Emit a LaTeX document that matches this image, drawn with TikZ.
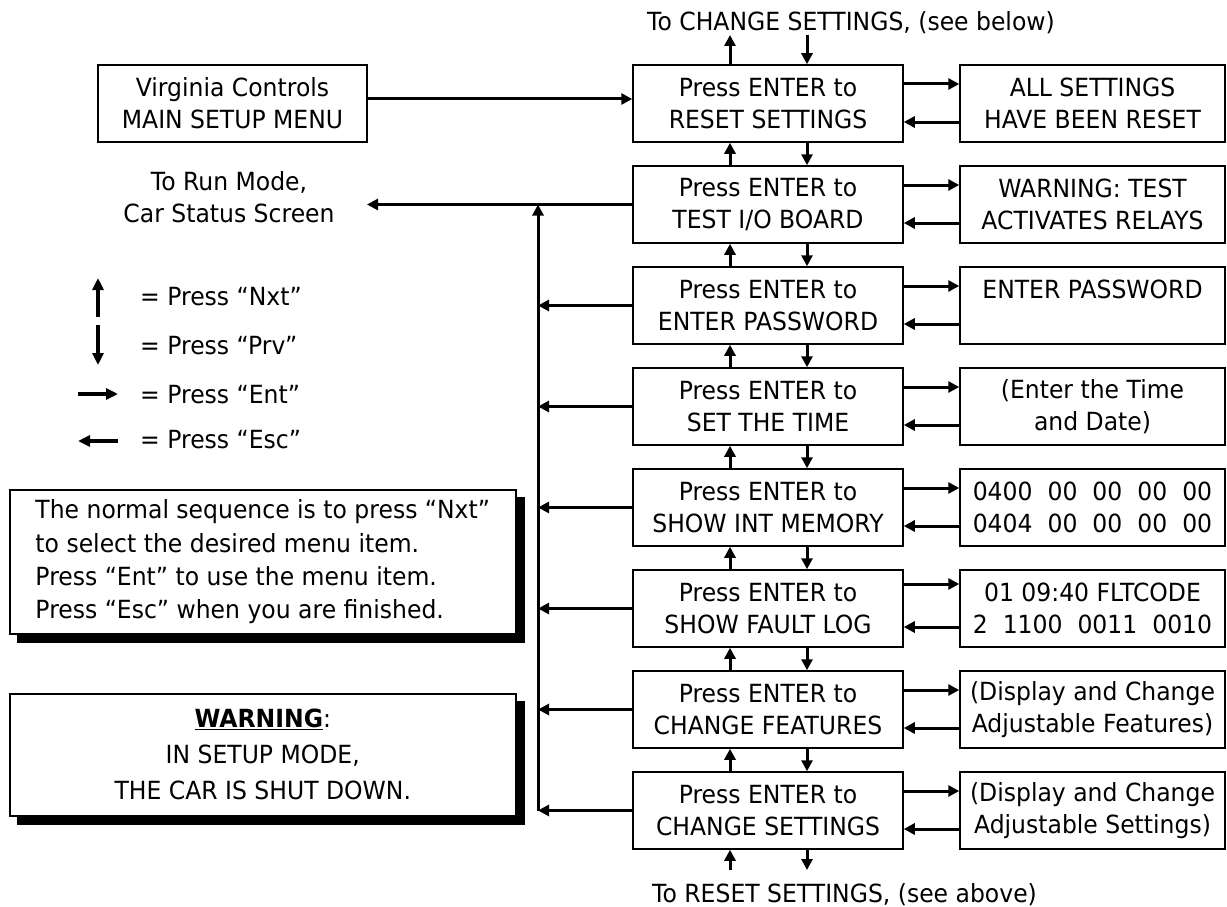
\documentclass[tikz,border=0pt]{standalone}
\usepackage{fontspec}
\setmainfont{DejaVu Sans}[FakeStretch=0.94]
\usetikzlibrary{arrows.meta,calc,backgrounds}
\begin{document}
\begin{tikzpicture}[x=1pt,y=-1pt,
  every node/.style={font=\fontsize{25}{32}\selectfont},
  cbox/.style={draw,line width=1.5pt,minimum width=270pt,minimum height=77pt,inner sep=0pt,align=center},
  rbox/.style={cbox,minimum width=265pt},
  arr/.style={line width=3pt,-{Triangle[length=11pt,width=11pt]}},
  legarr/.style={line width=3.5pt,-{Triangle[length=12pt,width=11pt]}},
  lbl/.style={inner sep=0pt,align=center},
  notebox/.style={draw,line width=1.5pt,fill=white,anchor=north west,inner ysep=0pt},
  shadowfill/.style={fill=black}
]
\useasboundingbox (0,0) rectangle (1227,907);

% centre column
\node[cbox] (c1) at (768,103.5) {Press ENTER to\\RESET SETTINGS};
\node[cbox] (c2) at (768,204.5) {Press ENTER to\\TEST I/O BOARD};
\node[cbox] (c3) at (768,305.5) {Press ENTER to\\ENTER PASSWORD};
\node[cbox] (c4) at (768,406.5) {Press ENTER to\\SET THE TIME};
\node[cbox] (c5) at (768,507.5) {Press ENTER to\\SHOW INT MEMORY};
\node[cbox] (c6) at (768,608.5) {Press ENTER to\\SHOW FAULT LOG};
\node[cbox] (c7) at (768,709.5) {Press ENTER to\\CHANGE FEATURES};
\node[cbox] (c8) at (768,810.5) {Press ENTER to\\CHANGE SETTINGS};

% right column
\node[rbox] (r1) at (1092.5,103.5) {ALL SETTINGS\\HAVE BEEN RESET};
\node[rbox] (r2) at (1092.5,204.5) {WARNING: TEST\\ACTIVATES RELAYS};
\node[rbox] (r3) at (1092.5,305.5) {ENTER PASSWORD\\~};
\node[rbox] (r4) at (1092.5,406.5) {(Enter the Time\\and Date)};
\node[rbox] (r5) at (1092.5,507.5) {0400\hspace{15pt}00\hspace{15pt}00\hspace{15pt}00\hspace{15pt}00\\0404\hspace{15pt}00\hspace{15pt}00\hspace{15pt}00\hspace{15pt}00};
\node[rbox] (r6) at (1092.5,608.5) {01 09:40 FLTCODE\\2\hspace{15pt}1100\hspace{15pt}0011\hspace{15pt}0010};
\node[rbox] (r7) at (1092.5,709.5) {(Display and Change\\Adjustable Features)};
\node[rbox] (r8) at (1092.5,810.5) {(Display and Change\\Adjustable Settings)};

% main menu box
\node[cbox,minimum width=269pt] (vc) at (232.5,103.5) {Virginia Controls\\MAIN SETUP MENU};
\draw[arr] ([yshift=4.5pt]vc.east) -- ([yshift=4.5pt]c1.west);

% enter / esc arrows
\foreach \i in {1,2,3,4,5,7,8}{
  \draw[arr] ([yshift=19.5pt]c\i.east) -- ([yshift=19.5pt]r\i.west);
  \draw[arr] ([yshift=-18.5pt]r\i.west) -- ([yshift=-18.5pt]c\i.east);
}
\draw[arr] ([yshift=24.5pt]c6.east) -- ([yshift=24.5pt]r6.west);
\draw[arr] ([yshift=-18.5pt]r6.west) -- ([yshift=-18.5pt]c6.east);

% nxt / prv arrows
\foreach \a/\b in {2/1,3/2,4/3,5/4,6/5,7/6,8/7}{
  \draw[arr] ([xshift=-38pt]c\a.north) -- ([xshift=-38pt]c\b.south);
  \draw[arr] ([xshift=39pt]c\b.south) -- ([xshift=39pt]c\a.north);
}
\coordinate (tu) at (730,35);
\coordinate (td) at (807,35);
\draw[arr] ([xshift=-38pt]c1.north) -- (tu);
\draw[arr] (td) -- ([xshift=39pt]c1.north);
\coordinate (bu) at (730,870);
\coordinate (bd) at (807,870);
\draw[arr] (bu) -- ([xshift=-38pt]c8.south);
\draw[arr] ([xshift=39pt]c8.south) -- (bd);

\node[lbl,anchor=base west] (toptxt) at (647,30.5) {To CHANGE SETTINGS, (see below)};
\node[lbl,anchor=base west] (bottxt) at (652,902) {To RESET SETTINGS, (see above)};

% run mode
\node[lbl] (run) at (229,197.5) {To Run Mode,\\Car Status Screen};
\coordinate (runtip) at (367,204.5);
\coordinate (bus) at (538,204.5);
\draw[arr] (c2.west) -- (runtip);
\draw[arr] (c8.west -| bus) -- (bus);
\foreach \i in {3,4,5,6,7,8}{
  \draw[arr] (c\i.west) -- (c\i.west -| bus);
}

% legend
\coordinate (l1a) at (98,317); \coordinate (l1b) at (98,278);
\coordinate (l2a) at (98,325); \coordinate (l2b) at (98,365);
\coordinate (l3a) at (78,394); \coordinate (l3b) at (118,394);
\coordinate (l4a) at (118,441); \coordinate (l4b) at (78,441);
\draw[legarr] (l1a) -- (l1b);
\draw[legarr] (l2a) -- (l2b);
\draw[legarr] (l3a) -- (l3b);
\draw[legarr] (l4a) -- (l4b);
\node[lbl,anchor=west] (t1) at (140,297) {= Press “Nxt”};
\node[lbl,anchor=west] (t2) at (140,346) {= Press “Prv”};
\node[lbl,anchor=west] (t3) at (140,395) {= Press “Ent”};
\node[lbl,anchor=west] (t4) at (140,440) {= Press “Esc”};

% note boxes
\node[notebox,minimum width=506pt,minimum height=144pt,inner xsep=23pt,align=left,font=\fontsize{25}{33.3}\selectfont] (note) at (9,489)
  {The normal sequence is to press “Nxt”\\to select the desired menu item.\\Press “Ent” to use the menu item.\\Press “Esc” when you are finished.};
\node[notebox,minimum width=506pt,minimum height=122pt,inner xsep=0pt,align=center,font=\fontsize{25}{36}\selectfont] (warn) at (9,693)
  {\textbf{\underline{WARNING}}:\\IN SETUP MODE,\\THE CAR IS SHUT DOWN.};
\begin{scope}[on background layer]
  \fill[shadowfill] ([shift={(8,8)}]note.north west) rectangle ([shift={(8,8)}]note.south east);
  \fill[shadowfill] ([shift={(8,8)}]warn.north west) rectangle ([shift={(8,8)}]warn.south east);
\end{scope}
\end{tikzpicture}
\end{document}
